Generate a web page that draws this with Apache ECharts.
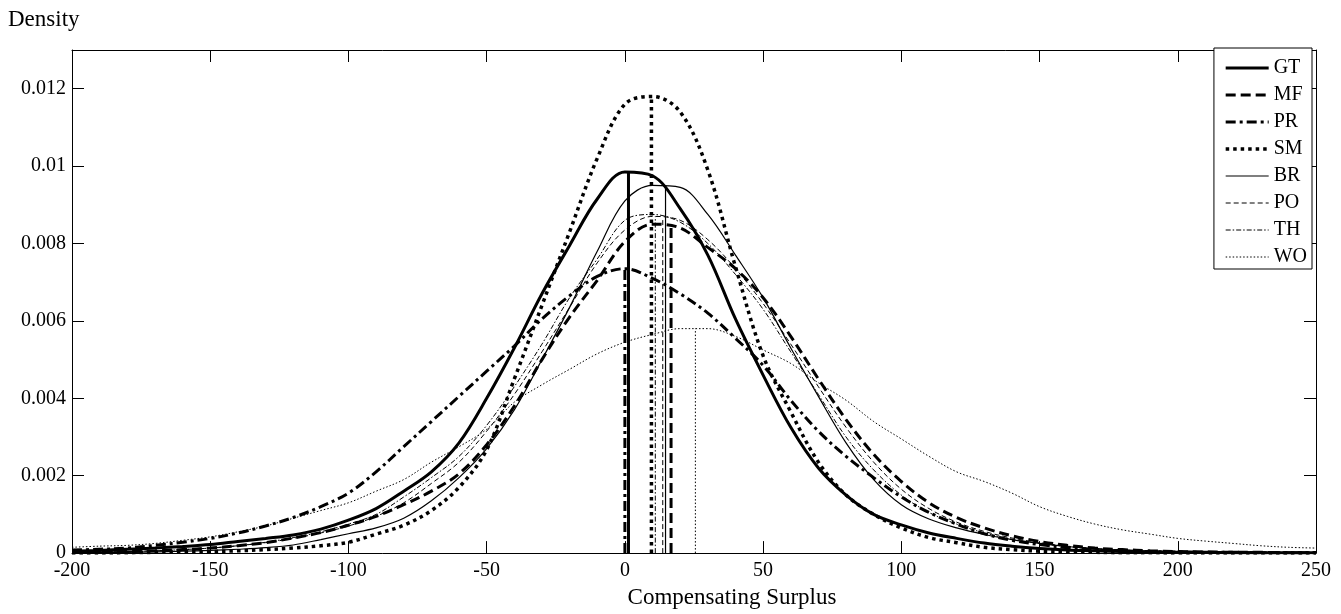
<!DOCTYPE html>
<html>
<head>
<meta charset="utf-8">
<script src="https://cdn.jsdelivr.net/npm/echarts@6/dist/echarts.min.js"></script>
<style>
html,body{margin:0;padding:0;background:#fff;}
#c{width:1341px;height:614px;}
</style>
</head>
<body>
<div id="c"></div>
<script>
// Compensating Surplus grid
const xs = [-200,-190,-180,-170,-160,-150,-140,-130,-120,-110,-100,-90,-80,-70,-60,-50,-40,-30,-20,-10,0,10,20,30,40,50,60,70,80,90,100,110,120,130,140,150,160,170,180,190,200,210,220,230,240,250];
// densities (x 0.001)
const GT = [0.05,0.07,0.1,0.13,0.17,0.22,0.3,0.38,0.47,0.62,0.85,1.15,1.6,2.1,2.85,4.0,5.3,6.7,7.95,9.15,9.85,9.75,8.9,7.7,6.05,4.6,3.25,2.2,1.5,1.0,0.73,0.52,0.38,0.26,0.18,0.12,0.08,0.06,0.04,0.03,0.02,0.02,0.01,0.01,0.01,0.01];
const MF = [0.02,0.03,0.04,0.06,0.09,0.13,0.19,0.27,0.39,0.53,0.72,0.95,1.25,1.6,2.05,2.8,3.8,5.0,6.1,7.05,8.05,8.5,8.4,7.9,7.35,6.6,5.6,4.5,3.45,2.55,1.85,1.3,0.92,0.65,0.45,0.3,0.2,0.13,0.09,0.06,0.04,0.03,0.02,0.02,0.01,0.01];
const PR = [0.08,0.1,0.13,0.2,0.28,0.38,0.52,0.7,0.92,1.2,1.55,2.1,2.75,3.4,4.05,4.7,5.35,6.05,6.65,7.15,7.35,7.1,6.7,6.2,5.55,4.85,3.95,3.15,2.5,1.95,1.45,1.05,0.75,0.5,0.33,0.22,0.14,0.09,0.06,0.04,0.03,0.02,0.02,0.01,0.01,0.01];
const SM = [0.0,0.0,0.01,0.02,0.03,0.04,0.06,0.09,0.13,0.19,0.28,0.49,0.72,1.1,1.7,2.67,4.5,6.4,8.3,10.2,11.6,11.8,11.4,9.9,7.4,5.1,3.65,2.35,1.5,1.0,0.65,0.4,0.27,0.15,0.09,0.05,0.03,0.02,0.01,0.01,0.0,0.0,0.0,0.0,0.0,0.0];
const BR = [0.01,0.01,0.02,0.03,0.05,0.07,0.1,0.14,0.21,0.35,0.5,0.65,0.9,1.35,1.95,2.7,3.7,5.0,6.35,7.8,9.1,9.5,9.45,8.75,7.7,6.6,5.3,4.05,2.85,1.9,1.25,0.88,0.65,0.48,0.35,0.25,0.17,0.11,0.07,0.05,0.03,0.02,0.02,0.01,0.01,0.01];
const PO = [0.02,0.03,0.04,0.06,0.09,0.13,0.19,0.27,0.38,0.52,0.7,0.95,1.3,1.8,2.35,3.15,4.1,5.2,6.35,7.5,8.35,8.7,8.6,8.1,7.35,6.45,5.4,4.3,3.25,2.35,1.65,1.15,0.8,0.56,0.39,0.27,0.18,0.12,0.08,0.05,0.04,0.03,0.02,0.02,0.01,0.01];
const TH = [0.02,0.03,0.04,0.06,0.09,0.13,0.19,0.28,0.4,0.55,0.75,1.0,1.45,1.95,2.5,3.3,4.3,5.4,6.6,7.6,8.6,8.75,8.55,8.0,7.2,6.3,5.2,4.1,3.0,2.15,1.5,1.05,0.75,0.52,0.36,0.25,0.17,0.11,0.08,0.05,0.04,0.03,0.02,0.02,0.01,0.01];
const WO = [0.15,0.18,0.2,0.25,0.33,0.42,0.55,0.7,0.9,1.1,1.3,1.6,1.9,2.35,2.75,3.2,3.9,4.35,4.75,5.15,5.45,5.65,5.8,5.8,5.6,5.25,4.9,4.4,3.95,3.4,2.95,2.5,2.1,1.85,1.55,1.2,0.95,0.75,0.6,0.49,0.38,0.31,0.25,0.19,0.15,0.13];
// means (vertical markers) and density at the mean (x 0.001)
const names = ['GT','MF','PR','SM','BR','PO','TH','WO'];
const meanX = [1.3,16.7,0,9.6,14.7,13.7,11,25.5];
const meanH = [9.85,8.45,7.35,11.8,9.5,8.65,8.7,5.8];
const yTicks = [0,0.002,0.004,0.006,0.008,0.01,0.012];

const curves = {GT,MF,PR,SM,BR,PO,TH,WO};
const styles = {
  GT:{width:3,type:'solid'},
  MF:{width:3,type:[10,5]},
  PR:{width:3,type:[10,4,3,4]},
  SM:{width:3.5,type:[3.5,4]},
  BR:{width:1.2,type:'solid'},
  PO:{width:1,type:[5,3]},
  TH:{width:1,type:[5,2,1.5,2]},
  WO:{width:1,type:[1.5,2]}
};
const series = [];
names.forEach(n=>{
  series.push({
    name:n,type:'line',symbol:'none',smooth:0.35,
    data: xs.map((x,i)=>[x, curves[n][i]/1000]),
    lineStyle:{color:'#000',width:styles[n].width,type:styles[n].type,cap:'butt'},
    itemStyle:{color:'#000'},
    z:3
  });
});
names.forEach((n,i)=>{
  series.push({
    name:n,type:'line',symbol:'none',
    data:[[meanX[i],0],[meanX[i],meanH[i]/1000]],
    lineStyle:{color:'#000',width:styles[n].width,type:styles[n].type,cap:'butt'},
    z:3
  });
});

const FONT = 'Liberation Serif';
const chart = echarts.init(document.getElementById('c'),null,{renderer:'canvas'});
chart.setOption({
  backgroundColor:'#fff',
  animation:false,
  title:{text:'Density',left:3,top:3,textStyle:{fontFamily:FONT,fontSize:23,fontWeight:'normal',color:'#000'}},
  grid:{left:72,right:25,top:50,bottom:59},
  legend:{
    data:names.map(n=>({name:n,lineStyle:{width:styles[n].width,type:styles[n].type,color:'#000'}})),
    orient:'vertical',right:29,top:48,
    backgroundColor:'#fff',borderColor:'#000',borderWidth:1,borderRadius:0,
    padding:[10,5,2,10],itemWidth:43,itemHeight:14,itemGap:7,
    itemStyle:{color:'rgba(0,0,0,0)',borderWidth:0,opacity:0},
    textStyle:{fontFamily:FONT,fontSize:20,color:'#000'}
  },
  xAxis:[{
    type:'value',min:-200,max:250,interval:50,
    name:'Compensating Surplus',nameLocation:'middle',nameGap:30,
    nameTextStyle:{fontFamily:FONT,fontSize:23,color:'#000',padding:[0,0,0,76]},
    axisLine:{show:true,onZero:false,lineStyle:{color:'#000',width:1}},
    axisTick:{show:true,inside:true,length:12,lineStyle:{color:'#000'}},
    axisLabel:{fontFamily:FONT,fontSize:20,color:'#000',margin:8},
    splitLine:{show:false}
  },{
    type:'value',position:'top',min:-200,max:250,interval:50,
    axisLine:{show:true,onZero:false,lineStyle:{color:'#000',width:1}},
    axisTick:{show:true,inside:true,length:12,lineStyle:{color:'#000'}},
    axisLabel:{show:false},splitLine:{show:false}
  }],
  yAxis:[{
    type:'value',min:0,max:0.013,interval:0.002,
    axisLine:{show:true,onZero:false,lineStyle:{color:'#000',width:1}},
    axisTick:{show:true,inside:true,length:12,lineStyle:{color:'#000'}},
    axisLabel:{fontFamily:FONT,fontSize:20,color:'#000',margin:6,
      formatter:v=>{const t=yTicks.find(k=>Math.abs(k-v)<1e-9);return t===undefined?'':String(t);}},
    splitLine:{show:false}
  },{
    type:'value',position:'right',min:0,max:0.013,interval:0.002,
    axisLine:{show:true,onZero:false,lineStyle:{color:'#000',width:1}},
    axisTick:{show:true,inside:true,length:12,lineStyle:{color:'#000'}},
    axisLabel:{show:false},splitLine:{show:false}
  }],
  series:series
});
</script>
</body>
</html>
